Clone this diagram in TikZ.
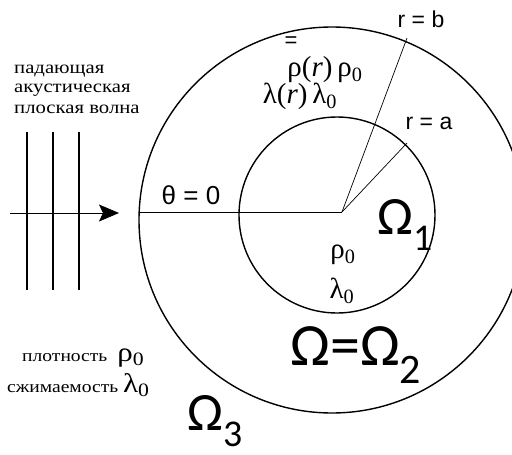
\documentclass[tikz,border=0pt]{standalone}
\usepackage{fontspec}
\setmainfont{Liberation Serif}
\newfontfamily\omegafont{Carlito}
\newfontfamily\labelfont{Liberation Sans}
\usetikzlibrary{arrows.meta}

\begin{document}
\begin{tikzpicture}[x=1pt,y=-1pt,
		rim/.style={line width=1.4pt},
		ray/.style={line width=0.7pt},
		omega/.style={font=\omegafont\fontsize{54}{54}\selectfont, inner sep=0pt},
		rus/.style={font=\fontsize{18}{18}\selectfont, inner sep=0pt, anchor=west, xscale=1.15},
		greek/.style={font=\fontsize{29}{29}\selectfont, inner sep=0pt},
		radius/.style={font=\labelfont\fontsize{23}{23}\selectfont, inner sep=0pt}]
		\useasboundingbox (0,0) rectangle (512,455);
		\coordinate (O) at (342,212);  % centre
		\coordinate (B) at (407,38);  % r = b
		\coordinate (A) at (407,143);  % r = a
		\coordinate (W) at (139,212);  % outer boundary, theta = 0
		\draw[rim] (332,220) circle (193);  % Omega_2 boundary
		\draw[rim] (337,215) circle (98);  % Omega_1 boundary
		\draw[ray] (W) -- (O);
		\draw[ray] (O) -- (B);
		\draw[ray] (O) -- (A);
		% incident plane wave
		\coordinate (s) at (10,213);
		\coordinate (t) at (119,213);
		\draw[ray, -{Stealth[length=20pt,width=17pt,inset=4pt]}] (s) -- (t);
		\foreach \x/\w in {27/1.5pt, 53/1.5pt, 79/2.1pt} {
			\draw[line width=\w] (\x,132) -- (\x,290);
		}
		\node[rus] (inc1) at (14,71) {падающая};
		\node[rus] (inc2) at (14,90) {акустическая};
		\node[rus] (inc3) at (14,109) {плоская волна};
		\node[font=\labelfont\fontsize{26}{26}\selectfont, inner sep=0pt] (theta) at (191,195) {θ = 0};
		\node[radius] (rb) at (421,19) {r = b};
		\node[radius] (ra) at (429,123) {r = a};
		% Omega_2 parameters
		\node[font=\labelfont\fontsize{22}{22}\selectfont, inner sep=0pt] (bar) at (291,42) {=};
		\node[greek] (rho) at (325,70) {ρ(\textit{r})\,ρ\textsubscript{0}};
		\node[greek] (lam) at (300,96) {λ(\textit{r})\,λ\textsubscript{0}};
		% Omega_1 parameters
		\node[greek] (rho1) at (343,255) {ρ\textsubscript{0}};
		\node[greek] (lam1) at (342,291) {λ\textsubscript{0}};
		% Omega_3 parameters
		\node[rus, font=\fontsize{17}{17}\selectfont] (dens) at (22,358) {плотность \fontsize{27}{27}\selectfont\,ρ\textsubscript{0}};
		\node[rus, font=\fontsize{17}{17}\selectfont] (comp) at (7,385) {сжимаемость \fontsize{27}{27}\selectfont λ\textsubscript{0}};
		\node[omega] (om1) at (405,225) {Ω\textsubscript{1}};
		\node[omega, font=\omegafont\fontsize{60}{60}\selectfont] (om2) at (356,355) {Ω=Ω\textsubscript{2}};
		\node[omega] (om3) at (215,421) {Ω\textsubscript{3}};
	\end{tikzpicture}
\end{document}
